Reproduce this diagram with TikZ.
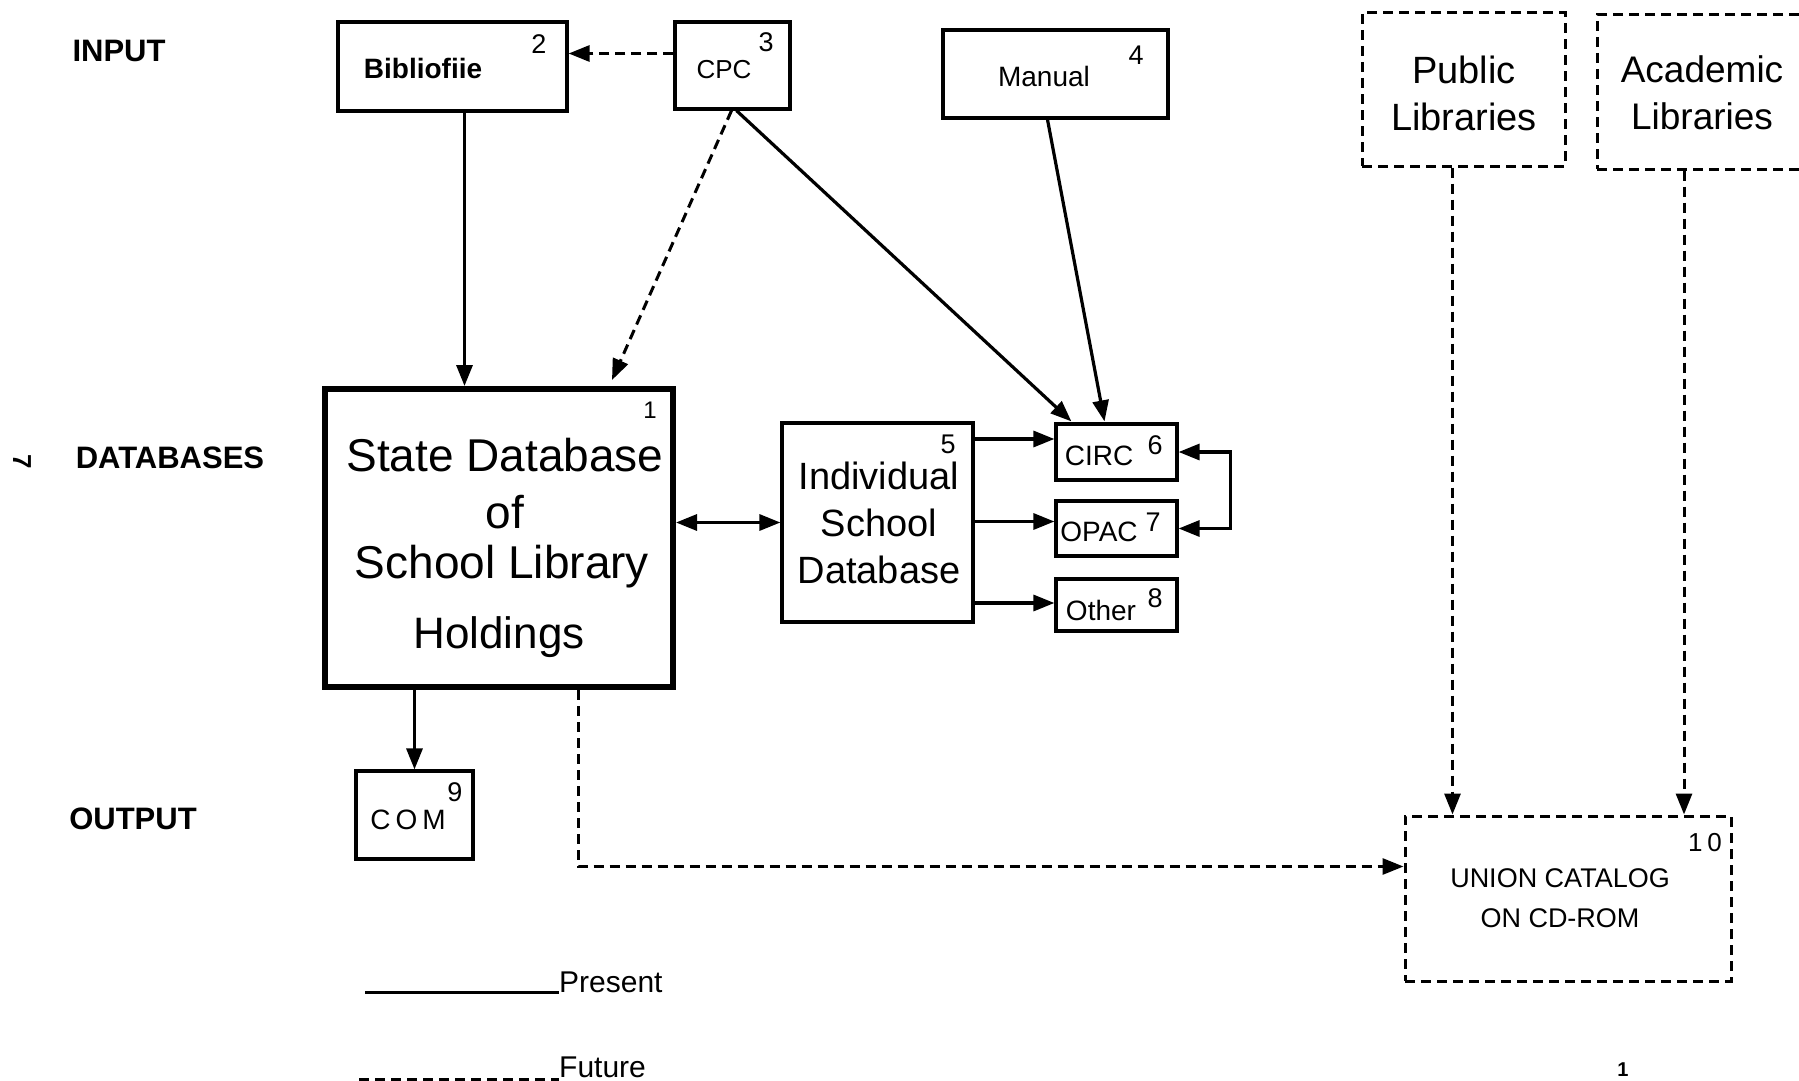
\documentclass[tikz,border=0pt]{standalone}
\usepackage{fontspec}
\setmainfont{Liberation Sans}
\newfontfamily\spacedfont[LetterSpace=18]{Liberation Sans}
\usetikzlibrary{arrows.meta,calc}
\tikzset{
  box/.style={draw, line width=3.2pt, inner sep=0pt},
  dbox/.style={draw, line width=3pt, inner sep=0pt, dash pattern=on 10pt off 6pt},
  txt/.style={inner sep=0pt, align=center},
  num/.style={inner sep=0pt, font=\fontsize{27}{30}\selectfont},
  lab/.style={inner sep=0pt, font=\fontsize{31}{34}\selectfont\bfseries},
  con/.style={line width=3.2pt, -{Triangle[length=21pt,width=16pt]}},
  dcon/.style={line width=3pt, dash pattern=on 10pt off 6pt, -{Triangle[length=21pt,width=16pt]}},
}
\begin{document}
\begin{tikzpicture}[x=1pt,y=-1pt]
\useasboundingbox (0,0) rectangle (1799,1081);
\fill[white] (0,0) rectangle (1799,1081);
\clip (0,0) rectangle (1799,1081);

% row labels
\node[lab] (input) at (119,51) {INPUT};
\node[lab] (databases) at (170,458) {DATABASES};
\node[lab] (output) at (133,819) {OUTPUT};
\node[inner sep=0pt, font=\fontsize{26}{30}\selectfont\bfseries, rotate=-90] (pg) at (22,462) {7};

% input boxes
\node[box, minimum width=229pt, minimum height=89pt] (bib) at (452.5,66.5) {};
\node[txt, font=\fontsize{28}{32}\selectfont\bfseries] (bibt) at (423,68) {Bibliofiie};
\node[num] (bibn) at (539,44) {2};

\node[box, minimum width=115pt, minimum height=87pt] (cpc) at (732.5,65.5) {};
\node[txt, font=\fontsize{26}{30}\selectfont] (cpct) at (724,70) {CPC};
\node[num] (cpcn) at (766,42) {3};

\node[box, minimum width=225pt, minimum height=88pt] (man) at (1055.5,74) {};
\node[txt, font=\fontsize{28}{32}\selectfont] (mant) at (1044,76) {Manual};
\node[num] (mann) at (1136,55) {4};

\node[dbox, minimum width=203pt, minimum height=153pt] (pub) at (1463.5,89.5) {};
\node[txt, font=\fontsize{38}{47}\selectfont] (pubt) at (1464,93) {Public\\Libraries};

\node[dbox, minimum width=240pt, minimum height=154pt] (aca) at (1717,92) {};
\node[txt, font=\fontsize{37}{47}\selectfont] (acat) at (1702,93) {Academic\\Libraries};

% databases
\node[box, line width=6pt, minimum width=348pt, minimum height=298pt] (sdb) at (499,538) {};
\node[num, font=\fontsize{24}{28}\selectfont] (sdbn) at (650,410) {1};
\node[txt, font=\fontsize{46}{50}\selectfont] (sdbt1) at (505,455) {State Database};
\node[txt, font=\fontsize{46}{50}\selectfont] (sdbt2) at (505,512) {of};
\node[txt, font=\fontsize{46}{50}\selectfont] (sdbt3) at (502,567) {School Library};
\node[txt, font=\fontsize{44}{50}\selectfont] (sdbt4) at (499,637) {Holdings};

\node[box, minimum width=191pt, minimum height=199pt] (isd) at (877.5,522.5) {};
\node[num] (isdn) at (948,444) {5};
\node[txt, font=\fontsize{38}{47}\selectfont] (isdt) at (879,523) {Individual\\School\\Database};

\node[box, minimum width=121pt, minimum height=56pt] (circ) at (1116.5,452) {};
\node[txt, font=\fontsize{28}{32}\selectfont] (circt) at (1099,456) {CIRC};
\node[num] (circn) at (1155,445) {6};

\node[box, minimum width=121pt, minimum height=55pt] (opac) at (1116.5,528.5) {};
\node[txt, font=\fontsize{28}{32}\selectfont] (opact) at (1099,532) {OPAC};
\node[num] (opacn) at (1153,522) {7};

\node[box, minimum width=121pt, minimum height=52pt] (other) at (1116.5,605) {};
\node[txt, font=\fontsize{28}{32}\selectfont] (othert) at (1101,610) {Other};
\node[num] (othern) at (1155,598) {8};

% output
\node[box, minimum width=117pt, minimum height=88pt] (com) at (414.5,815) {};
\node[txt, font=\fontsize{28}{32}\selectfont\spacedfont] (comt) at (408,820) {COM};
\node[num] (comn) at (455,792) {9};

\node[dbox, minimum width=326pt, minimum height=165pt] (uc) at (1568,898.5) {};
\node[txt, font=\fontsize{27}{40}\selectfont] (uct) at (1560,898) {UNION CATALOG\\ON CD-ROM};
\node[num, font=\fontsize{26}{30}\selectfont\spacedfont] (ucn) at (1705,843) {10};

% connectors
\draw[dcon] ([yshift=12pt]cpc.west) -- ([yshift=12pt]cpc.west -| bib.east);
\draw[con] ([xshift=12pt]bib.south) -- ([xshift=12pt]bib.south |- sdb.north);
\draw[dcon] ([xshift=-1pt]cpc.south) -- ([xshift=113pt,yshift=6pt]sdb.north);
\draw[con] ([xshift=4pt]cpc.south) -- ([xshift=17pt,yshift=1pt]circ.north west);
\draw[con] ([xshift=-8pt]man.south) -- ([xshift=-12pt,yshift=1pt]circ.north);

\draw[con, {Triangle[length=21pt,width=16pt]}-{Triangle[length=21pt,width=16pt]}] (isd.west -| sdb.east) -- (isd.west);
\draw[con] ([yshift=13pt]circ.west -| isd.east) -- ([yshift=13pt]circ.west);
\draw[con] ([yshift=7pt]opac.west -| isd.east) -- ([yshift=7pt]opac.west);
\draw[con] ([yshift=2pt]other.west -| isd.east) -- ([yshift=2pt]other.west);
\draw[con, {Triangle[length=21pt,width=16pt]}-{Triangle[length=21pt,width=16pt]}] (circ.east) -- ++(52,0) |- (opac.east);

\draw[con] (com.north |- sdb.south) -- (com.north);
\draw[dcon] ([xshift=79pt]sdb.south) |- ([yshift=32pt]uc.west);
\draw[dcon] ([xshift=-11pt]pub.south) -- ([xshift=-11pt]pub.south |- uc.north);
\draw[dcon] ([xshift=-33pt]aca.south) -- ([xshift=-33pt]aca.south |- uc.north);

% legend
\node[inner sep=0pt, anchor=base west, font=\fontsize{30}{34}\selectfont] (pres) at (559,992) {Present};
\coordinate (presl) at (365,992);
\draw[line width=3pt] (presl) -- (pres.base west);
\node[inner sep=0pt, anchor=base west, font=\fontsize{30}{34}\selectfont] (fut) at (559,1077) {Future};
\coordinate (futl) at (359,1079);
\draw[line width=3pt, dash pattern=on 10pt off 6pt] (futl) -- ([yshift=-2pt]fut.base west);

\node[inner sep=0pt, font=\fontsize{20}{24}\selectfont\bfseries] (pgb) at (1623,1070) {1};
\end{tikzpicture}
\end{document}
